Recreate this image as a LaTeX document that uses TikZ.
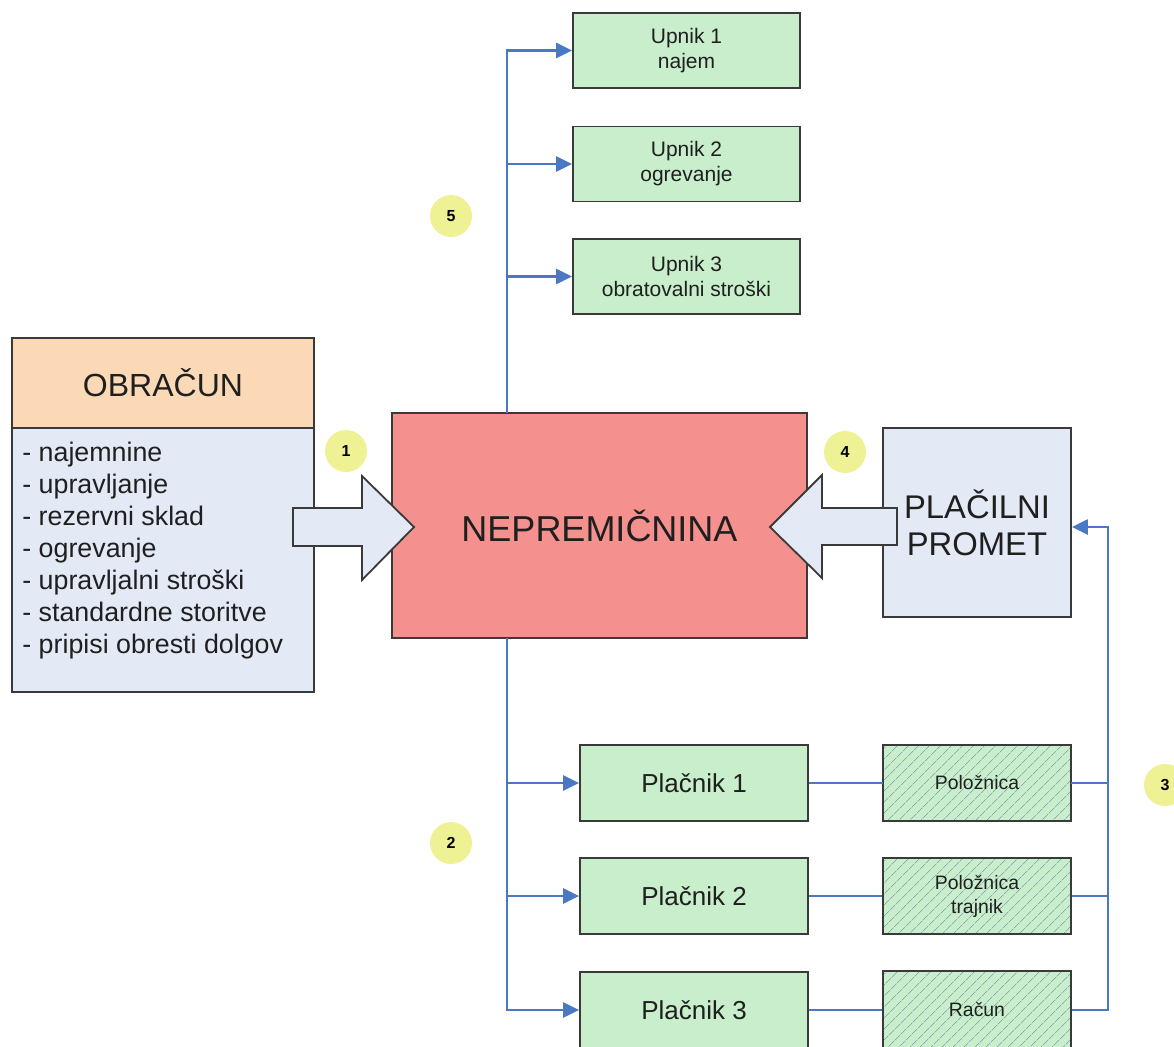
\documentclass[tikz,border=0pt]{standalone}
\usepackage{fontspec}
\setmainfont{Liberation Sans}
\usepackage{xcolor}
\usetikzlibrary{arrows.meta,patterns.meta}
\definecolor{boxline}{HTML}{3A3A3A}
\definecolor{flowblue}{HTML}{4A78C2}
\definecolor{peach}{HTML}{FBD9B6}
\definecolor{paleblue}{HTML}{E4EAF5}
\definecolor{salmon}{HTML}{F4908E}
\definecolor{mint}{HTML}{C8EECB}
\definecolor{hatchgray}{HTML}{8FA6B5}
\definecolor{numyellow}{HTML}{EFF195}
\newcommand{\fsz}[2]{\fontsize{#1}{#2}\selectfont}
\tikzset{
	box/.style={draw=boxline, line width=0.9pt, inner sep=2pt, align=center, text=black!88},
	mintbox/.style={box, fill=mint, minimum width=113.5pt, minimum height=37.5pt},
	hatchbox/.style={box, preaction={fill=mint},
			pattern={Lines[angle=45, distance=4pt, line width=0.4pt]}, pattern color=hatchgray,
			minimum width=94pt, minimum height=38pt, font=\fsz{9.7}{12}},
	numdot/.style={circle, fill=numyellow, minimum size=21pt, inner sep=0pt, font=\bfseries\fsz{8}{9}}
}

\begin{document}
\begin{tikzpicture}[x=0.5pt, y=-0.5pt]
    \useasboundingbox (0,0) rectangle (1174,1046);
    \clip (0,0) rectangle (1174,1046);

    \tikzset{link/.style={-{Triangle[length=8pt, width=7.5pt]}, draw=flowblue, line width=1.2pt},
             wire/.style={draw=flowblue, line width=1.2pt},
             blockarrow/.style={fill=paleblue, draw=boxline, line width=0.9pt}}

    \node[box, fill=peach, minimum width=151pt, minimum height=45pt, font=\fsz{16}{19}] (obr) at (163,383) {OBRAČUN};
    \node[box, fill=paleblue, minimum width=151pt, minimum height=132pt] (obrbody) at (163,560) {};
    \node[anchor=north west, inner sep=0pt, align=left, text=black!88, font=\fsz{13.4}{16}] (obrlist) at (22,442)
        {- najemnine\\- upravljanje\\- rezervni sklad\\- ogrevanje\\- upravljalni stroški\\- standardne storitve\\- pripisi obresti dolgov};

    \node[box, fill=salmon, minimum width=207.5pt, minimum height=112.5pt, font=\fsz{18}{22}] (nep) at (599.5,525.5) {NEPREMIČNINA};
    \node[box, fill=paleblue, minimum width=94pt, minimum height=94.5pt, font=\fsz{16.4}{18.5}] (pp) at (977,522.5) {PLAČILNI\\PROMET};

    \foreach \i/\y/\txt in {1/50.5/najem, 2/164/ogrevanje, 3/276.5/obratovalni stroški}
        \node[mintbox, font=\fsz{10.5}{12.5}] (u\i) at (686.5,\y) {Upnik \i\\\txt};

    \foreach \i/\y in {1/783, 2/896, 3/1010}
        \node[mintbox, minimum width=114pt, minimum height=38pt, font=\fsz{13}{15}] (p\i) at (694,\y) {Plačnik \i};

    \node[hatchbox] (h1) at (977,783) {Položnica};
    \node[hatchbox] (h2) at (977,896) {Položnica\\trajnik};
    \node[hatchbox, minimum height=39pt] (h3) at (977,1010) {Račun};

    \draw[blockarrow] (293,508) -- (362,508) -- (362,476) -- (414,527) -- (362,580) -- (362,546) -- (293,546) -- cycle;
    \draw[blockarrow] (897,508) -- (822,508) -- (822,475) -- (770,527) -- (822,578) -- (822,545) -- (897,545) -- cycle;

    \coordinate (tk) at (507,413);
    \coordinate (bk) at (507,638);
    \coordinate (rk) at (1108,527);

    \foreach \i in {1,2,3}
        \draw[link] (tk) |- (u\i);
    \foreach \i in {1,2,3} {
        \draw[link] (bk) |- (p\i);
        \draw[wire] (p\i) -- (h\i);
    }
    \draw[link] (h3.east) -| (rk) -- (rk -| pp.east);
    \draw[wire] (h1.east) -- (h1.east -| rk);
    \draw[wire] (h2.east) -- (h2.east -| rk);

    \node[numdot] (n1) at (346,451) {1};
    \node[numdot] (n2) at (451,843) {2};
    \node[numdot] (n3) at (1165,785) {3};
    \node[numdot] (n4) at (845,452) {4};
    \node[numdot] (n5) at (451,216) {5};
\end{tikzpicture}
\end{document}
